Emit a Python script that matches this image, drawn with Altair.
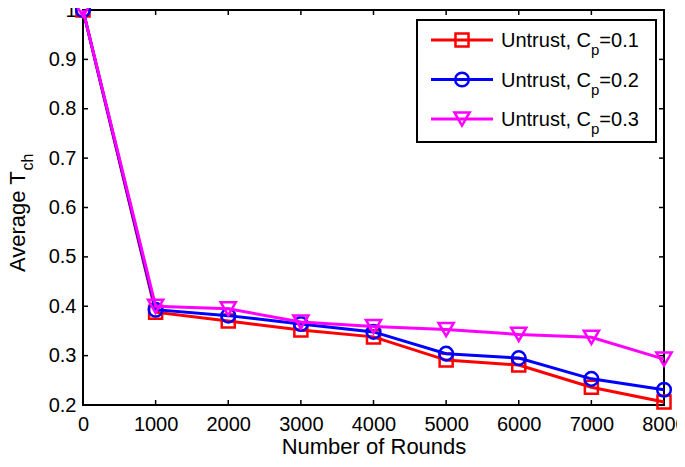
import altair as alt
import pandas as pd

# ---- data ----
rounds = [0, 1000, 2000, 3000, 4000, 5000, 6000, 7000, 8000]
cp_01 = [1.0, 0.388, 0.370, 0.352, 0.338, 0.291, 0.281, 0.236, 0.206]
cp_02 = [1.0, 0.393, 0.381, 0.364, 0.348, 0.304, 0.295, 0.253, 0.231]
cp_03 = [1.0, 0.400, 0.395, 0.368, 0.359, 0.353, 0.343, 0.337, 0.293]
cp_labels = ["0.1", "0.2", "0.3"]
colors = ["#FF0000", "#0000FF", "#FF00FF"]
shapes = ["square", "circle", "triangle-down"]
x_ticks = [0, 1000, 2000, 3000, 4000, 5000, 6000, 7000, 8000]
y_ticks = [0.2, 0.3, 0.4, 0.5, 0.6, 0.7, 0.8, 0.9, 1.0]

FONT = "Liberation Sans"
W, H = 581, 395
TICK = 5
MSIZE = {"square": 170, "circle": 185, "triangle-down": 230}

series = [cp_01, cp_02, cp_03]
xscale = alt.Scale(domain=[0, 8000], nice=False)
yscale = alt.Scale(domain=[0.2, 1.0], nice=False, zero=False)

x_axis = alt.Axis(values=x_ticks, format="d", ticks=False, domain=False, grid=False,
                  labelFont=FONT, labelFontSize=20, labelColor="black",
                  labelPadding=9, labelFlush=False,
                  titleFont=FONT, titleFontSize=22,
                  titleFontWeight="normal", titleColor="black",
                  titleBaseline="alphabetic", titleY=48, titleX=W / 2)
y_axis = alt.Axis(values=y_ticks, ticks=False, domain=False, grid=False,
                  labelExpr="datum.value >= 0.999 ? '1' : format(datum.value, '.1f')",
                  labelFont=FONT, labelFontSize=20, labelColor="black",
                  labelPadding=7, labelFlush=False)

X = alt.X("x:Q", scale=xscale, axis=x_axis, title="Number of Rounds")
Y = alt.Y("y:Q", scale=yscale, axis=y_axis, title="")

layers = []
one = pd.DataFrame({"k": [0]})
xt = pd.DataFrame({"x": x_ticks})
yt = pd.DataFrame({"y": y_ticks})

# inward ticks
layers.append(alt.Chart(xt).mark_rule(color="black", strokeWidth=1.5).encode(
    x=X, y=alt.value(H), y2=alt.value(H - TICK)))
layers.append(alt.Chart(xt).mark_rule(color="black", strokeWidth=1.5).encode(
    x=X, y=alt.value(0), y2=alt.value(TICK)))
layers.append(alt.Chart(yt).mark_rule(color="black", strokeWidth=1.5).encode(
    y=Y, x=alt.value(0), x2=alt.value(TICK)))
layers.append(alt.Chart(yt).mark_rule(color="black", strokeWidth=1.5).encode(
    y=Y, x=alt.value(W), x2=alt.value(W - TICK)))

# data series
for vals, col, shp in zip(series, colors, shapes):
    df = pd.DataFrame({"x": rounds, "y": vals})
    layers.append(alt.Chart(df).mark_line(color=col, strokeWidth=3).encode(x=X, y=Y))
    layers.append(alt.Chart(df).mark_point(color=col, shape=shp, filled=False, size=MSIZE[shp],
                                           strokeWidth=2.5, opacity=1).encode(x=X, y=Y))

# y title with subscript
YT_X = -58
YT_Y = 262
layers.append(alt.Chart(one).mark_text(angle=270, align="left", baseline="alphabetic",
                                       font=FONT, fontSize=22, color="black").encode(
    x=alt.value(YT_X), y=alt.value(YT_Y), text=alt.value("Average T")))
layers.append(alt.Chart(one).mark_text(angle=270, align="left", baseline="alphabetic",
                                       font=FONT, fontSize=16, color="black").encode(
    x=alt.value(YT_X + 8), y=alt.value(YT_Y - 4.613 * 22), text=alt.value("ch")))

# legend
LX0, LX1, LY0, LY1 = 334, 573, 10, 132
layers.append(alt.Chart(one).mark_rect(fill="white", stroke="black", strokeWidth=2).encode(
    x=alt.value(LX0), x2=alt.value(LX1), y=alt.value(LY0), y2=alt.value(LY1)))
row_y = [30, 69.5, 109]
LFS = 20
SFS = 15
for ly, col, shp, lab in zip(row_y, colors, shapes, cp_labels):
    layers.append(alt.Chart(one).mark_rule(color=col, strokeWidth=3).encode(
        x=alt.value(348), x2=alt.value(410), y=alt.value(ly)))
    layers.append(alt.Chart(one).mark_point(color=col, shape=shp, filled=False, size=MSIZE[shp],
                                            strokeWidth=2.5, opacity=1).encode(
        x=alt.value(379), y=alt.value(ly)))
    tx = 418
    layers.append(alt.Chart(one).mark_text(align="left", baseline="alphabetic", font=FONT,
                                           fontSize=LFS, color="black").encode(
        x=alt.value(tx), y=alt.value(ly + 7), text=alt.value("Untrust, C")))
    sx = tx + 4.501 * LFS
    layers.append(alt.Chart(one).mark_text(align="left", baseline="alphabetic", font=FONT,
                                           fontSize=SFS, color="black").encode(
        x=alt.value(sx), y=alt.value(ly + 15), text=alt.value("p")))
    ex = sx + 0.556 * SFS
    layers.append(alt.Chart(one).mark_text(align="left", baseline="alphabetic", font=FONT,
                                           fontSize=LFS, color="black").encode(
        x=alt.value(ex), y=alt.value(ly + 7), text=alt.value("=" + lab)))

chart = alt.layer(*layers).properties(
    width=W, height=H,
    autosize=alt.AutoSizeParams(type="none"),
    padding={"left": 75, "top": 2, "right": 13, "bottom": 54},
    background="white",
).configure_view(stroke="black", strokeWidth=2)

chart.save("out.html", embed_options={"renderer": "svg", "actions": False})
